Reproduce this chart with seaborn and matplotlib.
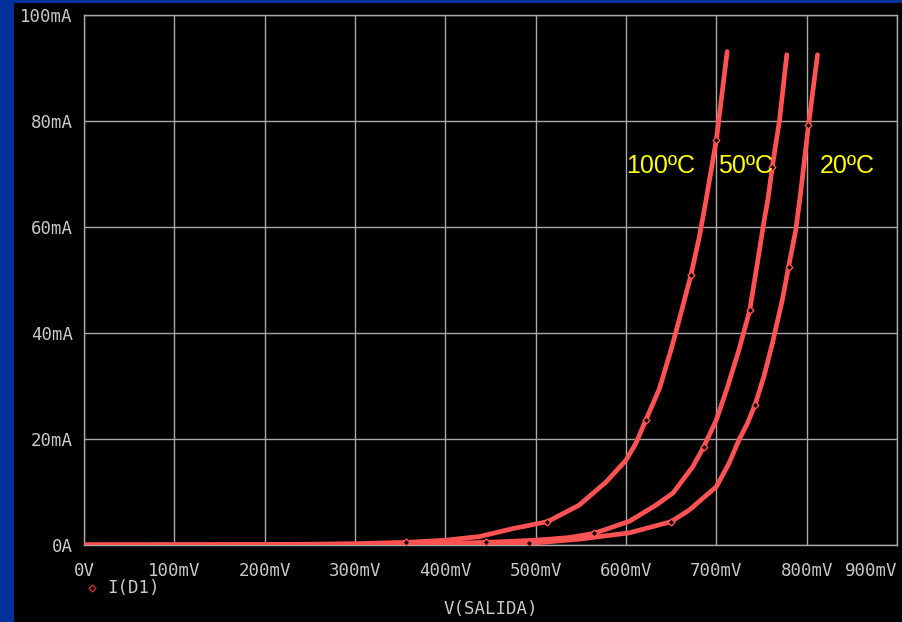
import matplotlib
matplotlib.use("Agg")
import matplotlib.pyplot as plt
from matplotlib.patches import Rectangle
from matplotlib.lines import Line2D
import seaborn as sns

# diode curves: voltage (mV) vs current (mA)
t100_v = [0, 100, 200, 250, 300, 357, 400, 438, 475, 513, 548, 578, 600, 611, 622,
          637, 651, 662, 672, 681, 688, 700, 712]
t100_i = [0, 0.03, 0.1, 0.15, 0.25, 0.5, 0.9, 1.6, 3.1, 4.4, 7.5, 11.9, 16.0, 19.2, 23.6,
          29.5, 37.5, 44.5, 51.0, 58.0, 64.5, 76.4, 93.1]

t50_v = [0, 100, 200, 300, 400, 445, 500, 537, 565, 604, 633, 652, 674, 686, 700,
         712, 725, 737, 746, 753, 757, 762, 770, 778]
t50_i = [0, 0.01, 0.03, 0.1, 0.3, 0.5, 0.9, 1.4, 2.2, 4.5, 7.5, 9.8, 14.8, 18.5, 23.6,
         29.6, 36.8, 44.3, 53.8, 61.3, 65.1, 71.4, 80.2, 92.5]

t20_v = [0, 100, 200, 300, 400, 450, 493, 548, 604, 650, 670, 700, 714, 725, 734,
         743, 753, 762, 773, 780, 788, 793, 802, 812]
t20_i = [0, 0.0, 0.01, 0.03, 0.1, 0.2, 0.3, 1.1, 2.3, 4.4, 6.6, 11.0, 15.4, 19.8, 22.8,
         26.5, 32.0, 38.0, 46.2, 52.5, 59.5, 66.0, 79.2, 92.5]

# PSpice symbol markers on each trace
m100_v = [357, 513, 622, 672, 700]
m100_i = [0.5, 4.4, 23.6, 51.0, 76.4]
m50_v = [445, 565, 686, 737, 762]
m50_i = [0.5, 2.2, 18.5, 44.3, 71.4]
m20_v = [493, 650, 743, 780, 802]
m20_i = [0.3, 4.4, 26.5, 52.5, 79.2]

x_ticks = [0, 100, 200, 300, 400, 500, 600, 700, 800, 900]
x_labels = ["0V", "100mV", "200mV", "300mV", "400mV", "500mV", "600mV", "700mV", "800mV", "900mV"]
y_ticks = [0, 20, 40, 60, 80, 100]
y_labels = ["0A", "20mA", "40mA", "60mA", "80mA", "100mA"]

labels = ["100ºC", "50ºC", "20ºC"]
label_x = [600, 702, 815]

sns.set_style("dark")
plt.rcParams["font.family"] = ["DejaVu Sans Mono"]

line_col = "#ff5252"
grid_col = "#a8a8a8"
text_col = "#c8c8c8"

fig = plt.figure(figsize=(9.03, 6.22), dpi=100, facecolor="black")
fig.patches.append(Rectangle((0, 0), 14 / 903, 1, transform=fig.transFigure,
                             facecolor="#00309c", edgecolor="none", zorder=0))
fig.patches.append(Rectangle((0, 1 - 3 / 622), 1, 3 / 622, transform=fig.transFigure,
                             facecolor="#00309c", edgecolor="none", zorder=0))

ax = fig.add_axes([84 / 903, 1 - 545 / 622, 813 / 903, 530 / 622])
ax.set_facecolor("black")

for v, i in [(t100_v, t100_i), (t50_v, t50_i), (t20_v, t20_i)]:
    sns.lineplot(x=v, y=i, ax=ax, color=line_col, linewidth=3.4, sort=False,
                 estimator=None, zorder=3)

for v, i in [(m100_v, m100_i), (m50_v, m50_i), (m20_v, m20_i)]:
    ax.plot(v, i, linestyle="none", marker="D", markersize=3.5,
            markerfacecolor="black", markeredgecolor=line_col, markeredgewidth=1.0, zorder=4)

for lab, lx in zip(labels, label_x):
    ax.text(lx, 71.5, lab, color="#ffff00", fontsize=18, family="Liberation Sans",
            va="center", ha="left", zorder=5)

ax.set_xlim(0, 900)
ax.set_ylim(0, 100)
ax.set_xticks(x_ticks)
ax.set_xticklabels(x_labels)
ax.set_yticks(y_ticks)
ax.set_yticklabels(y_labels)
ax.get_xticklabels()[-1].set_ha("right")
ax.grid(True, color=grid_col, linewidth=1.0)
for s in ax.spines.values():
    s.set_color(grid_col)
    s.set_linewidth(1.0)
ax.tick_params(axis="both", colors=grid_col, labelcolor=text_col, labelsize=12.5, width=1.0)
ax.tick_params(axis="x", length=5, pad=7)
ax.tick_params(axis="y", length=6, pad=2)
ax.set_xlabel("V(SALIDA)", color=text_col, fontsize=12.5, labelpad=15)

# PSpice style trace legend under the x axis
fig.add_artist(Line2D([92 / 903], [1 - 588 / 622], marker="D", markersize=3.5,
                      markerfacecolor="none", markeredgecolor="#c03030",
                      transform=fig.transFigure))
fig.text(107 / 903, 1 - 588 / 622, "I(D1)", color=text_col, fontsize=12.5, va="center")

fig.savefig("out.png", dpi=100, facecolor="black")
plt.close()
